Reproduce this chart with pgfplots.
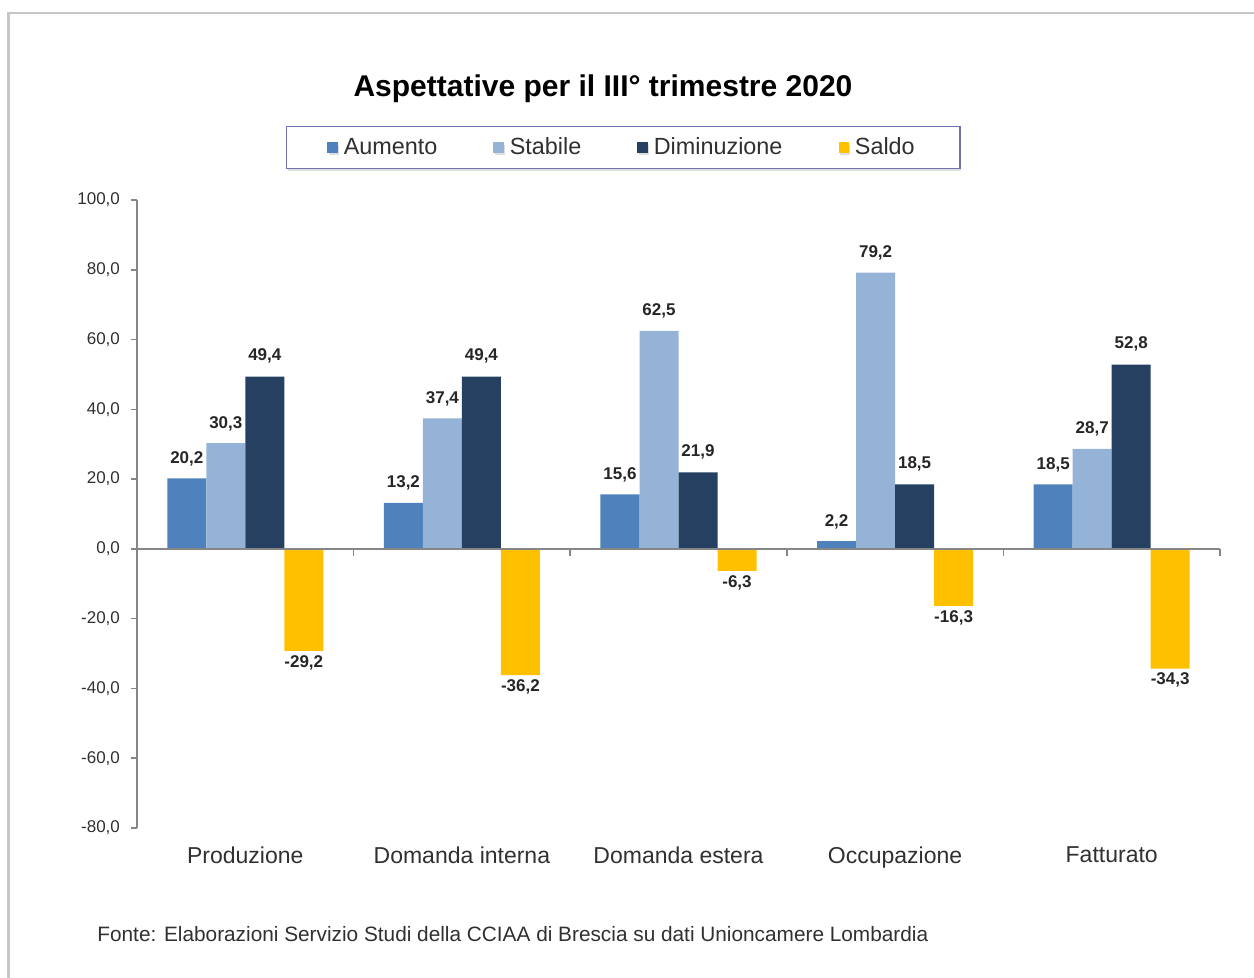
\documentclass[border=0pt]{standalone}
\usepackage{fontspec}
\setmainfont{Liberation Sans}
\usepackage{pgfplots}
\pgfplotsset{compat=1.18}
\usetikzlibrary{shadows}
\definecolor{aum}{HTML}{4F81BD}
\definecolor{sta}{HTML}{95B3D7}
\definecolor{dim}{HTML}{254061}
\definecolor{sal}{HTML}{FFC000}
\definecolor{axgray}{HTML}{868686}
\definecolor{txt}{HTML}{303030}
\definecolor{legb}{HTML}{7070B0}
\pgfplotsset{sqleg/.style={legend image code/.code={\fill[##1] (0pt,-2.6pt) rectangle (5.2pt,2.6pt);}}}
\begin{document}
\begin{tikzpicture}
\useasboundingbox (0,0) rectangle (627pt,-489pt);
\draw[black!22, line width=1.3pt] (4.3pt,-700pt) -- (4.3pt,-6.6pt) -- (700pt,-6.6pt);
\node[font=\bfseries\fontsize{15}{17}\selectfont, text=black] at (301.5pt,-44.3pt) {Aspettative per il III° trimestre 2020};
\node[font=\fontsize{10.4}{12}\selectfont, text=txt, anchor=west, inner sep=0pt] at (48.5pt,-467pt) {Fonte: Elaborazioni Servizio Studi della CCIAA di Brescia su dati Unioncamere Lombardia};
\begin{axis}[
  at={(68.5pt,-414pt)}, anchor=south west,
  scale only axis, width=541.5pt, height=314pt,
  ybar=0pt, bar width=19.5pt,
  xmin=-0.5, xmax=4.5, ymin=-80, ymax=100,
  ytick={-80,-60,...,100},
  xtick={0,1,2,3,4},
  xticklabels={Produzione, Domanda interna, Domanda estera, Occupazione, Fatturato},
  axis x line*=bottom, axis y line*=left,
  x axis line style={draw=none},
  y axis line style={draw=axgray, line width=0.8pt},
  major x tick style={draw=none},
  ytick style={draw=axgray, line width=0.8pt},
  tick align=outside, major tick length=3pt,
  xticklabel style={font=\fontsize{11.5}{13}\selectfont, text=txt, yshift=-3pt},
  yticklabel style={font=\fontsize{8.5}{10}\selectfont, text=txt, xshift=-2pt},
  /pgf/number format/.cd, fixed, fixed zerofill, precision=1, use comma, assume math mode=true,
  /pgfplots/.cd,
  clip=false,
  nodes near coords,
  every node near coord/.append style={font=\bfseries\fontsize{8.5}{10}\selectfont, text=black!85},
  legend columns=4,
  legend style={at={(0.4488,1.0836)}, anchor=center, draw=legb, line width=0.8pt,
    inner xsep=20.5pt, inner ysep=3.5pt, fill=white,
    drop shadow={shadow xshift=0.6pt, shadow yshift=-1.2pt, fill=black!25},
    font=\fontsize{11.7}{13}\selectfont, text=txt,
    /tikz/every odd column/.append style={column sep=1pt},
    /tikz/every even column/.append style={column sep=26pt}},
]
\addplot[fill=aum, draw=none, sqleg, every node near coord/.append style={inner ysep=6pt}] coordinates {(0,20.2) (1,13.2) (2,15.6) (3,2.2) (4,18.5)};
\addplot[fill=sta, draw=none, sqleg, every node near coord/.append style={inner ysep=6pt}] coordinates {(0,30.3) (1,37.4) (2,62.5) (3,79.2) (4,28.7)};
\addplot[fill=dim, draw=none, sqleg, every node near coord/.append style={inner ysep=6.5pt}] coordinates {(0,49.4) (1,49.4) (2,21.9) (3,18.5) (4,52.8)};
\addplot[fill=sal, draw=none, sqleg, every node near coord/.append style={inner ysep=2pt}] coordinates {(0,-29.2) (1,-36.2) (2,-6.3) (3,-16.3) (4,-34.3)};
\legend{Aumento, Stabile, Diminuzione, Saldo}
\draw[axgray, line width=0.8pt] (axis cs:-0.5,0) -- (axis cs:4.5,0);
\pgfplotsinvokeforeach{-0.5,0.5,1.5,2.5,3.5,4.5}{\draw[axgray, line width=0.8pt] (axis cs:#1,0) -- ++(0pt,-3.5pt);}
\end{axis}
\end{tikzpicture}
\end{document}
